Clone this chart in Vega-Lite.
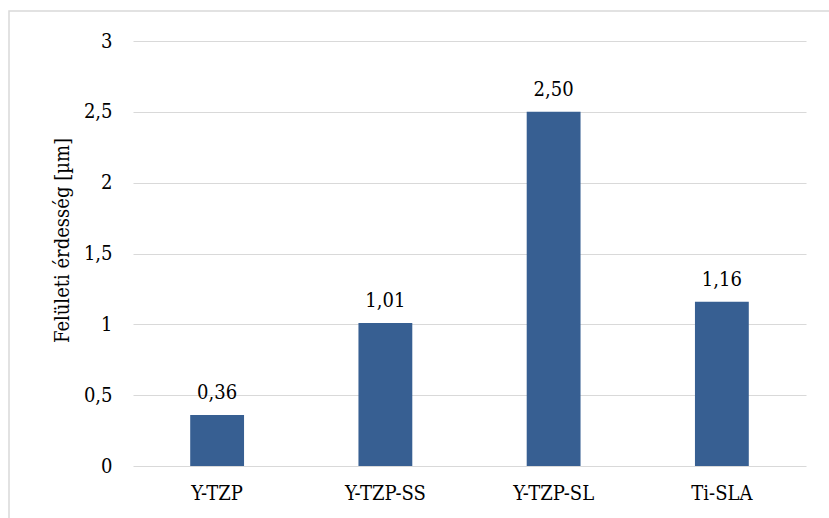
{
  "$schema": "https://vega.github.io/schema/vega-lite/v6.json",
  "width": 822,
  "height": 509,
  "autosize": "none",
  "padding": {"left": 9, "top": 11, "right": -2, "bottom": -2},
  "background": "white",
  "data": {
    "values": [
      {"minta": "Y-TZP", "ra": 0.36},
      {"minta": "Y-TZP-SS", "ra": 1.01},
      {"minta": "Y-TZP-SL", "ra": 2.50},
      {"minta": "Ti-SLA", "ra": 1.16}
    ]
  },
  "transform": [
    {"calculate": "replace(format(datum.ra, '.2f'), '.', ',')", "as": "felirat"}
  ],
  "encoding": {
    "x": {
      "field": "minta",
      "type": "nominal",
      "sort": null,
      "scale": {"range": [124, 797], "paddingInner": 0.68, "paddingOuter": 0.34},
      "axis": {
        "title": null,
        "orient": "bottom",
        "offset": -54,
        "domain": false,
        "ticks": false,
        "tickSize": 0,
        "grid": false,
        "labelAngle": 0,
        "labelPadding": 17,
        "labelFont": "DejaVu Serif Condensed",
        "labelFontSize": 20,
        "labelColor": "#000000"
      }
    },
    "y": {
      "field": "ra",
      "type": "quantitative",
      "scale": {"domain": [0, 3], "range": [455, 30], "nice": false, "zero": true},
      "axis": {
        "title": "Felületi érdesség [µm]",
        "orient": "left",
        "offset": -124,
        "values": [0, 0.5, 1, 1.5, 2, 2.5, 3],
        "domain": false,
        "ticks": false,
        "tickSize": 0,
        "grid": true,
        "gridColor": "#d9d9d9",
        "gridWidth": 1,
        "labelExpr": "replace(toString(datum.value), '.', ',')",
        "labelPadding": 21,
        "labelFont": "DejaVu Serif Condensed",
        "labelFontSize": 20,
        "labelColor": "#000000",
        "titleFont": "DejaVu Serif Condensed",
        "titleFontSize": 20,
        "titleFontWeight": "normal",
        "titleColor": "#000000",
        "titleAngle": -90,
        "titleBaseline": "alphabetic",
        "titleAlign": "center",
        "titleX": -65,
        "titleY": 229
      }
    }
  },
  "layer": [
    {
      "mark": {"type": "bar", "color": "#375f92"}
    },
    {
      "mark": {
        "type": "text",
        "baseline": "alphabetic",
        "dy": -16,
        "font": "DejaVu Serif Condensed",
        "fontSize": 20,
        "color": "#000000"
      },
      "encoding": {"text": {"field": "felirat", "type": "nominal"}}
    }
  ],
  "config": {
    "font": "DejaVu Serif Condensed",
    "view": {"stroke": "#d9d9d9", "strokeWidth": 1.5}
  }
}
